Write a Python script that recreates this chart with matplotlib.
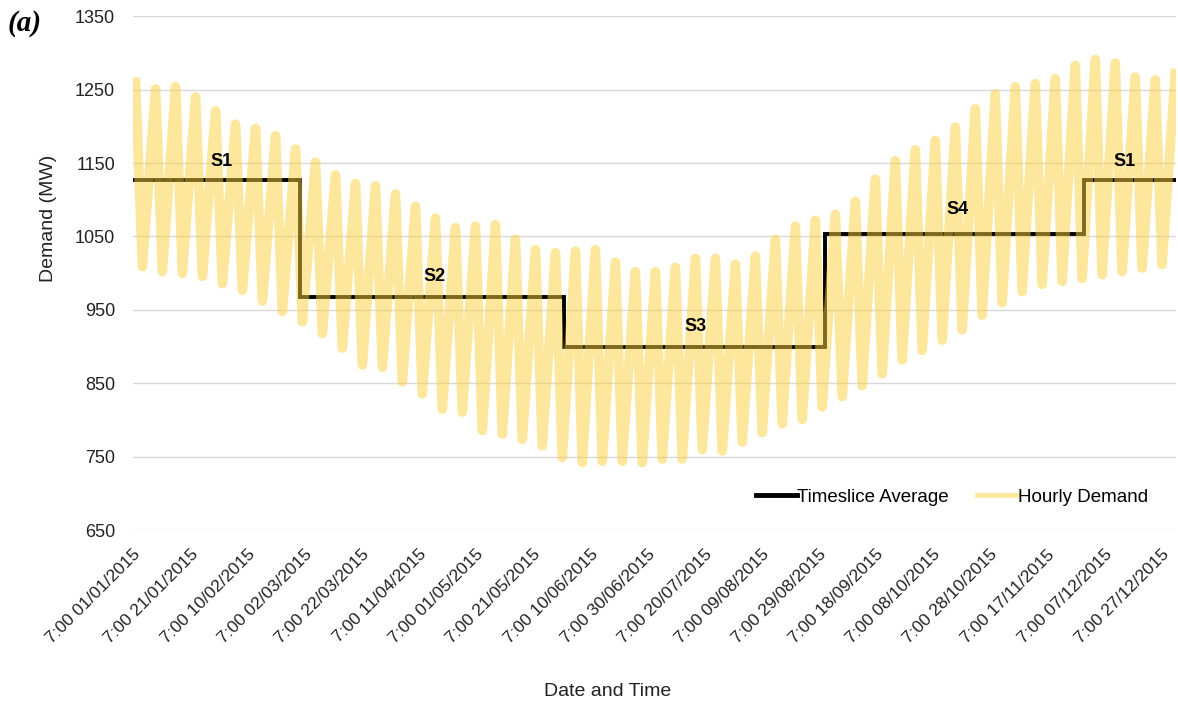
import numpy as np
import matplotlib
matplotlib.use("Agg")
import matplotlib.pyplot as plt
from matplotlib.lines import Line2D

plt.rcParams['font.family'] = ['Liberation Sans', 'DejaVu Sans']

# weekly peak / trough of the hourly demand (MW)
weekly_peak = [1260, 1251, 1254, 1240, 1221, 1203, 1197, 1187, 1169, 1151,
               1134, 1122, 1119, 1108, 1091, 1075, 1062, 1064, 1066, 1046,
               1032, 1028, 1030, 1032, 1015, 1002, 1002, 1008, 1020, 1020,
               1012, 1023, 1046, 1064, 1072, 1080, 1098, 1128, 1153, 1168,
               1181, 1199, 1224, 1244, 1254, 1258, 1265, 1283, 1291, 1286,
               1267, 1263, 1272]
weekly_trough = [1009, 1002, 1000, 996, 986, 977, 962, 948, 934, 918,
                 898, 875, 872, 852, 836, 815, 811, 786, 781, 774,
                 765, 749, 742, 744, 744, 742, 747, 747, 760, 758,
                 770, 783, 795, 801, 818, 832, 847, 863, 882, 895,
                 909, 923, 943, 960, 975, 985, 989, 993, 998, 1002,
                 1007, 1012]

# timeslice averages
season_names = ['S1', 'S2', 'S3', 'S4', 'S1']
season_ends = [58.5, 151, 242.3, 333, 365]   # day of year (from 7:00 01/01)
season_avg = [1127, 967, 900, 1054, 1127]

tick_labels = ['7:00 01/01/2015', '7:00 21/01/2015', '7:00 10/02/2015',
               '7:00 02/03/2015', '7:00 22/03/2015', '7:00 11/04/2015',
               '7:00 01/05/2015', '7:00 21/05/2015', '7:00 10/06/2015',
               '7:00 30/06/2015', '7:00 20/07/2015', '7:00 09/08/2015',
               '7:00 29/08/2015', '7:00 18/09/2015', '7:00 08/10/2015',
               '7:00 28/10/2015', '7:00 17/11/2015', '7:00 07/12/2015',
               '7:00 27/12/2015']

YELLOW = '#FDD13D'


def main():
    fig = plt.figure(figsize=(11.78, 7.05), dpi=100)
    ax = fig.add_axes([0.1129, 0.248, 0.885, 0.729])

    # timeslice average (step line)
    starts = [0] + season_ends[:-1]
    xs, ys = [], []
    for s, e, v in zip(starts, season_ends, season_avg):
        xs += [s, e]
        ys += [v, v]
    ax.plot(xs, ys, color='black', lw=2.8, solid_joinstyle='miter', zorder=3)

    # hourly demand, drawn as weekly peak / trough zigzag
    hx, hy = [], []
    for i, p in enumerate(weekly_peak):
        hx.append(i * 7 + 0.9)
        hy.append(p)
        if i < len(weekly_trough):
            hx.append(i * 7 + 3.3)
            hy.append(weekly_trough[i])
    ax.plot(hx, hy, color=YELLOW, alpha=0.5, lw=7,
            solid_joinstyle='round', zorder=4)

    # season labels
    label_pos = [(31, 1152), (105.5, 996), (197, 927), (288.5, 1087), (347, 1152)]
    for name, (x, y) in zip(season_names, label_pos):
        ax.text(x, y, name, ha='center', va='center', fontsize=13,
                fontweight='bold', color='black', zorder=5)

    ax.set_xlim(0, 365)
    ax.set_ylim(650, 1350)
    ax.set_yticks(np.arange(650, 1351, 100))
    ax.set_xticks(np.arange(0, 361, 20))
    ax.set_xticklabels(tick_labels, rotation=45, ha='right',
                       rotation_mode='anchor', fontsize=12.5, color='#222222')
    ax.tick_params(axis='y', labelsize=13, labelcolor='#222222', length=0, pad=13)
    ax.tick_params(axis='x', length=0, pad=12)
    ax.grid(axis='y', color='#d9d9d9', lw=1.0)
    ax.set_axisbelow(True)
    for sp in ax.spines.values():
        sp.set_visible(False)

    ax.set_ylabel('Demand (MW)', fontsize=14, color='#222222')
    ax.yaxis.set_label_coords(-0.073, 0.607)
    ax.set_xlabel('Date and Time', fontsize=14, color='#222222')
    ax.xaxis.set_label_coords(0.455, -0.298)

    handles = [Line2D([], [], color='black', lw=3.5),
               Line2D([], [], color=YELLOW, alpha=0.5, lw=3.5)]
    ax.legend(handles, ['Timeslice Average', 'Hourly Demand'], ncol=2,
              loc='lower right', bbox_to_anchor=(0.99, 0.015), frameon=False,
              fontsize=13.5, handlelength=2.2, handletextpad=0.0,
              columnspacing=1.5)

    fig.text(0.006, 0.966, '(a)', fontsize=21, fontweight='bold',
             fontstyle='italic', family=['Liberation Serif', 'DejaVu Serif'],
             ha='left', va='center')

    fig.savefig('out.png', dpi=100, facecolor='white')


if __name__ == '__main__':
    main()
